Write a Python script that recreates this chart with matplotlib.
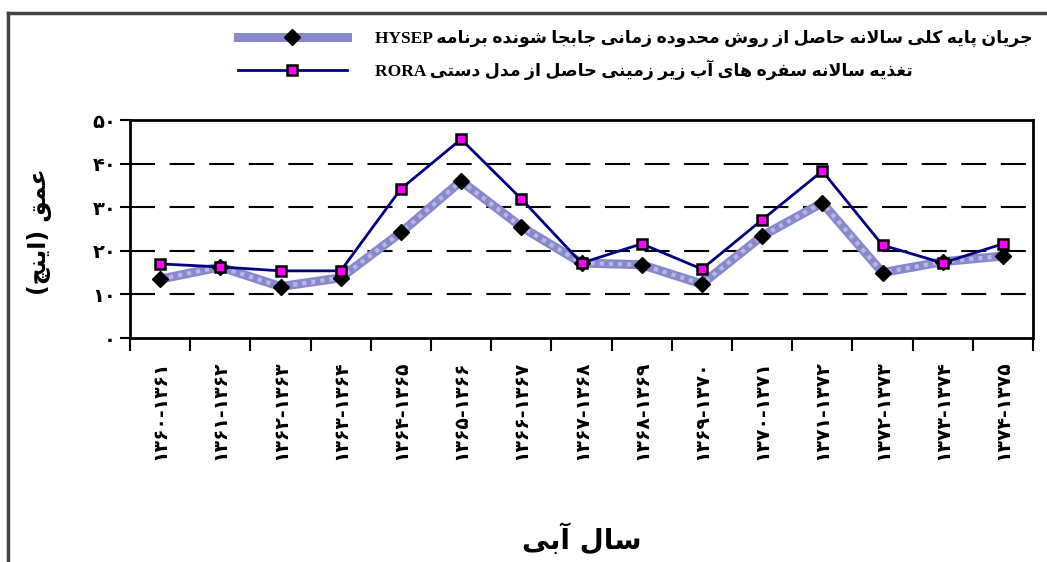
import re
import matplotlib
matplotlib.use("Agg")
import matplotlib.pyplot as plt
from matplotlib.lines import Line2D

# ---------------- data ----------------
years = ['۱۳۶۰-۱۳۶۱', '۱۳۶۱-۱۳۶۲', '۱۳۶۲-۱۳۶۳', '۱۳۶۳-۱۳۶۴', '۱۳۶۴-۱۳۶۵',
         '۱۳۶۵-۱۳۶۶', '۱۳۶۶-۱۳۶۷', '۱۳۶۷-۱۳۶۸', '۱۳۶۸-۱۳۶۹', '۱۳۶۹-۱۳۷۰',
         '۱۳۷۰-۱۳۷۱', '۱۳۷۱-۱۳۷۲', '۱۳۷۲-۱۳۷۳', '۱۳۷۳-۱۳۷۴', '۱۳۷۴-۱۳۷۵']
hysep = [13.5, 16.3, 11.8, 13.8, 24.2, 36.0, 25.5, 17.2, 16.8, 12.4, 23.4, 31.0, 15.0, 17.5, 18.8]
rora = [17.0, 16.3, 15.4, 15.4, 34.2, 45.6, 31.9, 17.2, 21.6, 15.8, 27.1, 38.3, 21.3, 17.2, 21.6]
yticks = [0, 10, 20, 30, 40, 50]
ytick_labels = ['۰', '۱۰', '۲۰', '۳۰', '۴۰', '۵۰']
label_hysep = 'جریان پایه کلی سالانه حاصل از روش محدوده زمانی جابجا شونده برنامه HYSEP'
label_rora = 'تغذیه سالانه سفره های آب زیر زمینی حاصل از مدل دستی RORA'
xlabel = 'سال آبی'
ylabel = 'عمق (اینچ)'

# ---------------- simple Persian shaping (presentation forms + RTL order) ----------------
FORMS = {  # isolated, final, initial, medial
    '\u0627': ('\uFE8D', '\uFE8E', None, None),
    '\u0622': ('\uFE81', '\uFE82', None, None),
    '\u0628': ('\uFE8F', '\uFE90', '\uFE91', '\uFE92'),
    '\u067E': ('\uFB56', '\uFB57', '\uFB58', '\uFB59'),
    '\u062A': ('\uFE95', '\uFE96', '\uFE97', '\uFE98'),
    '\u062C': ('\uFE9D', '\uFE9E', '\uFE9F', '\uFEA0'),
    '\u0686': ('\uFB7A', '\uFB7B', '\uFB7C', '\uFB7D'),
    '\u062D': ('\uFEA1', '\uFEA2', '\uFEA3', '\uFEA4'),
    '\u062F': ('\uFEA9', '\uFEAA', None, None),
    '\u0630': ('\uFEAB', '\uFEAC', None, None),
    '\u0631': ('\uFEAD', '\uFEAE', None, None),
    '\u0632': ('\uFEAF', '\uFEB0', None, None),
    '\u0633': ('\uFEB1', '\uFEB2', '\uFEB3', '\uFEB4'),
    '\u0634': ('\uFEB5', '\uFEB6', '\uFEB7', '\uFEB8'),
    '\u0635': ('\uFEB9', '\uFEBA', '\uFEBB', '\uFEBC'),
    '\u0639': ('\uFEC9', '\uFECA', '\uFECB', '\uFECC'),
    '\u063A': ('\uFECD', '\uFECE', '\uFECF', '\uFED0'),
    '\u0641': ('\uFED1', '\uFED2', '\uFED3', '\uFED4'),
    '\u0642': ('\uFED5', '\uFED6', '\uFED7', '\uFED8'),
    '\u06A9': ('\uFB8E', '\uFB8F', '\uFB90', '\uFB91'),
    '\u0644': ('\uFEDD', '\uFEDE', '\uFEDF', '\uFEE0'),
    '\u0645': ('\uFEE1', '\uFEE2', '\uFEE3', '\uFEE4'),
    '\u0646': ('\uFEE5', '\uFEE6', '\uFEE7', '\uFEE8'),
    '\u0647': ('\uFEE9', '\uFEEA', '\uFEEB', '\uFEEC'),
    '\u0648': ('\uFEED', '\uFEEE', None, None),
    '\u06CC': ('\uFBFC', '\uFBFD', '\uFBFE', '\uFBFF'),
}
LAMALEF = {'\u0627': ('\uFEFB', '\uFEFC'), '\u0622': ('\uFEF5', '\uFEF6')}


def _dual(c):
    return c in FORMS and FORMS[c][2] is not None


def shape(s):
    out = []
    i = 0
    n = len(s)
    while i < n:
        c = s[i]
        if c not in FORMS:
            out.append(c)
            i += 1
            continue
        prev_j = i > 0 and _dual(s[i - 1])
        if c == '\u0644' and i + 1 < n and s[i + 1] in LAMALEF:
            out.append(LAMALEF[s[i + 1]][1 if prev_j else 0])
            i += 2
            continue
        next_j = _dual(c) and i + 1 < n and s[i + 1] in FORMS
        iso, fin, ini, med = FORMS[c]
        if prev_j and next_j:
            out.append(med)
        elif prev_j:
            out.append(fin)
        elif next_j:
            out.append(ini)
        else:
            out.append(iso)
        i += 1
    return ''.join(out)


MIRROR = str.maketrans('()', ')(')


def rtl(s):
    shaped = shape(s)
    tokens = re.findall(r'[A-Za-z0-9\u06F0-\u06F9]+|[^A-Za-z0-9\u06F0-\u06F9]+', shaped)
    out = []
    for t in reversed(tokens):
        if re.match(r'[A-Za-z0-9\u06F0-\u06F9]', t):
            out.append(t)
        else:
            out.append(t[::-1].translate(MIRROR))
    return ''.join(out)


# ---------------- figure ----------------
W, H = 1047, 562
fig = plt.figure(figsize=(W / 100, H / 100), dpi=100)
fig.patch.set_facecolor('white')

x0, x1, ytop, ybot = 130, 1033, 120, 338
ax = fig.add_axes([x0 / W, 1 - ybot / H, (x1 - x0) / W, (ybot - ytop) / H])

n = len(years)
xs = list(range(n))

# HYSEP: thick lavender textured line with black diamonds
ax.plot(xs, hysep, color='#8888cc', lw=6.5, solid_capstyle='butt', zorder=3)
ax.plot(xs, hysep, color='#b8b8e6', lw=3, ls=(0, (1, 1.2)), zorder=3.1)
ax.plot(xs, hysep, ls='none', marker='D', ms=8, mfc='black', mec='black', zorder=5)
# RORA: navy line with magenta squares
ax.plot(xs, rora, color='#000080', lw=2, zorder=4)
ax.plot(xs, rora, ls='none', marker='s', ms=7.5, mfc='#ff00ff', mec='black', mew=1.8, zorder=6)

ax.set_xlim(-0.5, n - 0.5)
ax.set_ylim(0, 50)

# grid
for v in yticks[1:-1]:
    ax.axhline(v, color='black', lw=1.5, ls=(0, (12, 7)), zorder=1)

for s in ax.spines.values():
    s.set_linewidth(2)
    s.set_color('black')

fam = ['DejaVu Sans']
ax.set_yticks(yticks)
ax.set_yticklabels(ytick_labels, fontsize=14, fontweight='bold', family=fam)
ax.tick_params(axis='y', direction='out', length=7, width=1.5, pad=3)

ax.set_xticks([i - 0.5 for i in range(n + 1)])
ax.set_xticklabels([])
ax.tick_params(axis='x', which='major', direction='out', length=9, width=1.5)
ax.set_xticks(xs, minor=True)
ax.set_xticklabels(years, minor=True, rotation=90, fontsize=13.5, fontweight='bold', family=fam)
ax.tick_params(axis='x', which='minor', length=0, pad=16)

ax.set_xlabel(rtl(xlabel), fontsize=20, fontweight='bold', family=fam)
ax.xaxis.set_label_coords(0.5, (ybot - 540) / (ybot - ytop))
ax.xaxis.label.set_va('center')
ax.set_ylabel(rtl(ylabel), fontsize=17, fontweight='bold', family=fam)
ax.yaxis.set_label_coords((40 - x0) / (x1 - x0), (ybot - 232) / (ybot - ytop))
ax.yaxis.label.set_va('center')

# legend
h1 = Line2D([], [], color='#8888cc', lw=6.5, marker='D', ms=8, mfc='black', mec='black')
h2 = Line2D([], [], color='#000080', lw=2, marker='s', ms=7.5, mfc='#ff00ff', mec='black', mew=1.8)
leg = fig.legend([h1, h2], [rtl(label_hysep), rtl(label_rora)],
                 loc='upper left', bbox_to_anchor=(222 / W, 1 - 14 / H),
                 frameon=False, handlelength=6.3, handletextpad=1.6, labelspacing=0.75,
                 prop={'family': ['Liberation Serif', 'DejaVu Sans'], 'weight': 'bold', 'size': 12.5})

# outer frame (left and top borders)
fig.add_artist(Line2D([8 / W, 8 / W], [0, 1 - 13 / H], transform=fig.transFigure, color='#444444', lw=2.5))
fig.add_artist(Line2D([8 / W, 1], [1 - 13 / H, 1 - 13 / H], transform=fig.transFigure, color='#444444', lw=2.5))

fig.savefig('out.png', dpi=100, facecolor='white')
